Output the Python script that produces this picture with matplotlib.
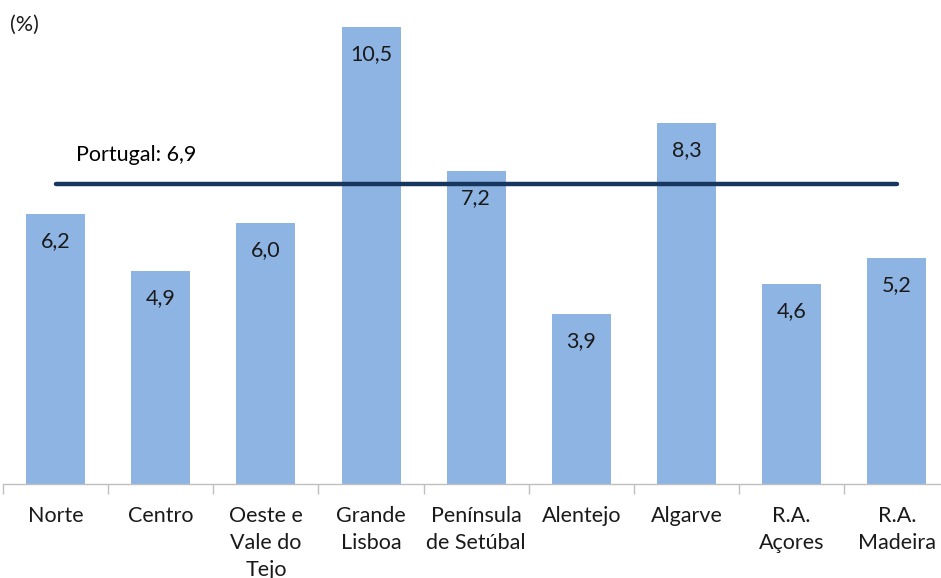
import matplotlib.pyplot as plt

plt.rcParams['font.family'] = ['Lato', 'DejaVu Sans']

regions = ['Norte', 'Centro', 'Oeste e\nVale do\nTejo', 'Grande\nLisboa',
           'Península\nde Setúbal', 'Alentejo', 'Algarve', 'R.A.\nAçores', 'R.A.\nMadeira']
values = [6.2, 4.9, 6.0, 10.5, 7.2, 3.9, 8.3, 4.6, 5.2]
portugal = 6.9

W, H = 941, 578
fig = plt.figure(figsize=(W / 100, H / 100), dpi=100)
# axes placed in pixels: x from 3 to 949.5 (right edge cut off), baseline at y=484
ymax = 11
px_per_unit = 457 / 10.5
left, right = 3, 949.5
bottom = 484
top = bottom - ymax * px_per_unit
ax = fig.add_axes([left / W, (H - bottom) / H, (right - left) / W, (bottom - top) / H])

fs = 15.5
x = list(range(len(regions)))
ax.bar(x, values, width=0.56, color='#8EB4E3', zorder=1)
ax.plot([x[0], x[-1]], [portugal, portugal], color='#17375E', lw=3.2,
        solid_capstyle='round', zorder=2)

for xi, v in zip(x, values):
    ax.text(xi, v - 0.62, f'{v:.1f}'.replace('.', ','), ha='center', va='center',
            fontsize=fs, color='#1a1a1a', zorder=3)

ax.text(0.19, portugal + 0.65, f'Portugal: {portugal:.1f}'.replace('.', ','),
        ha='left', va='center', fontsize=fs, color='black')
fig.text(10 / W, 1 - 25 / H, '(%)', ha='left', va='center', fontsize=fs, color='#1a1a1a')

ax.set_xlim(-0.5, len(regions) - 0.5)
ax.set_ylim(0, ymax)
ax.set_xticks([i - 0.5 for i in range(len(regions) + 1)], minor=False)
ax.set_xticklabels([])
ax.set_xticks(x, minor=True)
ax.set_xticklabels(regions, minor=True, fontsize=fs, color='#1a1a1a', linespacing=1.42, va='top')
ax.tick_params(axis='x', which='major', length=7, color='#BFBFBF', width=1)
ax.tick_params(axis='x', which='minor', length=0, pad=16)
ax.set_yticks([])
for s in ['top', 'right', 'left']:
    ax.spines[s].set_visible(False)
ax.spines['bottom'].set_color('#BFBFBF')
ax.spines['bottom'].set_linewidth(1)

fig.savefig('out.png', dpi=100)
